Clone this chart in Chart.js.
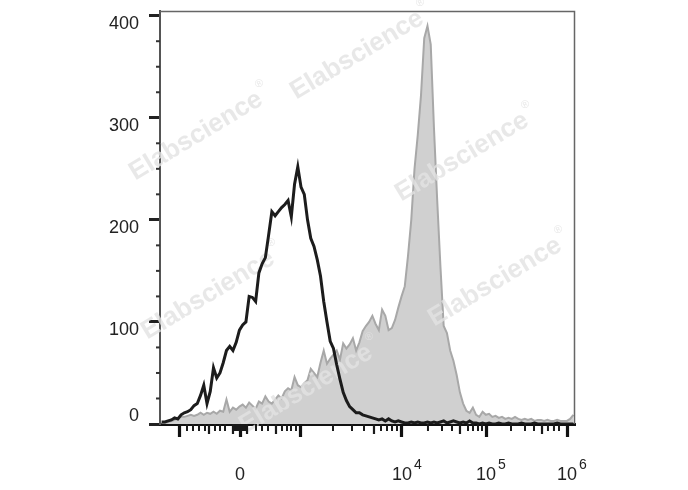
<!DOCTYPE html>
<html><head><meta charset="utf-8">
<script src="https://cdn.jsdelivr.net/npm/chart.js@4"></script>
<style>html,body{margin:0;padding:0;background:#fff;} canvas{display:block;}</style>
</head><body>
<canvas id="c" width="688" height="490"></canvas>
<script>
// ---- data (histogram channels, 128 bins of 8 channels over 0..1024) ----
const BIN_WIDTH = 8;
const X_MIN = 0, X_MAX = 1024;
const Y_MIN = 0, Y_MAX = 404.6;

const isotypeCounts = [
  2,2,3,4,6,5,9,11,12,14,
  18,20,28,38,20,32,55,45,50,60,
  72,76,72,80,92,97,100,125,124,120,
  148,157,163,185,208,204,208,212,215,219,
  203,235,252,232,225,200,182,174,161,145,
  120,100,81,74,58,44,31,23,17,14,
  11,11,9,8,7,6,5,4,5,3,
  5,3,2,3,2,1,1,2,1,2,
  1,1,2,1,2,1,2,3,1,2,
  3,2,1,2,1,3,1,1,0,1,
  0,1,0,0,1,0,0,1,0,0,
  0,1,0,0,0,1,0,0,0,0,
  0,0,1,0,0,0,0,0
];
const stainedCounts = [
  1,1,2,3,4,6,7,7,8,9,
  8,9,11,9,11,10,12,10,13,12,
  24,12,16,14,17,19,16,21,18,15,
  22,20,27,22,20,24,28,25,32,35,
  33,46,38,36,40,43,54,50,46,60,
  72,59,64,68,72,63,79,74,78,84,
  72,80,91,96,100,106,98,92,112,106,
  92,94,102,114,125,135,165,200,250,283,
  322,378,390,372,290,219,154,96,89,72,
  62,48,31,20,13,11,16,9,7,12,
  9,10,7,8,6,7,5,6,5,7,
  5,4,5,4,5,3,4,4,3,4,
  3,3,4,3,3,3,5,9
];

// ---- axis ticks (channel units) ----
const xMajorTicks     = [49.3, 197.4, 347.9, 597.1, 804.4, 1004.3];
const xMajorLabels    = ['', '0', '', '10', '10', '10'];
const xMajorExponents = ['', '', '', '4', '5', '6'];
const xMediumTicks = [120.9, 180.1, 214.7, 286.2, 528.0, 740.2, 942.6];
const xMinorTicks = [66.6, 81.4, 96.2, 111.0, 135.7, 148.0, 160.4,
  185.1, 187.6, 190.0, 192.5, 194.9, 199.9, 202.3, 204.8, 207.3, 209.8,
  236.9, 251.7, 266.5, 301.0, 313.4, 323.2, 335.6,
  426.9, 473.7, 503.3, 545.3, 560.1, 572.4, 584.8,
  661.2, 695.8, 720.5, 760.0, 772.3, 784.6, 794.5,
  866.1, 900.6, 922.8, 957.3, 972.1, 984.5];
const yMajorTicks = [0, 100, 200, 300, 400];
const yMajorLabels = ['0', '100', '200', '300', '400'];
const yMinorTicks = [25, 50, 75, 125, 150, 175, 225, 250, 275, 325, 350, 375];

const watermarkText = 'Elabscience';
const watermarkSpots = [[357,55],[196,136],[462,157],[208,295],[495,282],[306,389]];

const FONT = '"Liberation Sans", Arial, sans-serif';

function toPoints(arr){ return arr.map((v,i)=>({x: X_MIN + BIN_WIDTH*(i+0.5), y: v})); }

const extras = {
  id: 'extras',
  afterDatasetDraw(chart, args){
    if (args.index !== 1) return;
    const ctx = chart.ctx;
    ctx.save();
    ctx.fillStyle = 'rgba(226,226,226,0.8)';
    ctx.textAlign = 'center';
    ctx.textBaseline = 'middle';
    for (const [cx, cy] of watermarkSpots){
      ctx.save();
      ctx.translate(cx, cy);
      ctx.rotate(-31*Math.PI/180);
      ctx.font = 'bold 26px ' + FONT;
      ctx.fillText(watermarkText, 0, 0);
      const w = ctx.measureText(watermarkText).width;
      ctx.font = '11px ' + FONT;
      ctx.textAlign = 'left';
      ctx.fillText('®', w/2 + 2, -12);
      ctx.textAlign = 'center';
      ctx.restore();
    }
    ctx.restore();
  },
  afterDraw(chart){
    const ctx = chart.ctx, ca = chart.chartArea;
    const xs = chart.scales.x, ys = chart.scales.y;
    ctx.save();
    // top and right frame
    ctx.strokeStyle = '#666'; ctx.lineWidth = 1.5;
    ctx.beginPath();
    ctx.moveTo(ca.left, ca.top + 0.5); ctx.lineTo(ca.right - 0.5, ca.top + 0.5);
    ctx.lineTo(ca.right - 0.5, ca.bottom);
    ctx.stroke();
    // x minor / medium ticks
    ctx.strokeStyle = '#1a1a1a';
    ctx.lineWidth = 2;
    for (const v of xMinorTicks){
      const p = xs.getPixelForValue(v);
      ctx.beginPath(); ctx.moveTo(p, ca.bottom); ctx.lineTo(p, ca.bottom + 7); ctx.stroke();
    }
    ctx.lineWidth = 2.2;
    for (const v of xMediumTicks){
      const p = xs.getPixelForValue(v);
      ctx.beginPath(); ctx.moveTo(p, ca.bottom); ctx.lineTo(p, ca.bottom + 10); ctx.stroke();
    }
    // y minor ticks
    ctx.strokeStyle = '#333'; ctx.lineWidth = 2;
    for (const v of yMinorTicks){
      const p = ys.getPixelForValue(v);
      ctx.beginPath(); ctx.moveTo(ca.left - 4, p); ctx.lineTo(ca.left, p); ctx.stroke();
    }
    // superscript exponents on x labels
    ctx.fillStyle = '#222';
    ctx.textBaseline = 'alphabetic';
    ctx.textAlign = 'left';
    const base = ca.bottom + 57;
    xMajorTicks.forEach((v, i) => {
      if (!xMajorExponents[i]) return;
      const p = xs.getPixelForValue(v);
      ctx.font = '18px ' + FONT;
      const w = ctx.measureText(xMajorLabels[i]).width;
      ctx.font = '14px ' + FONT;
      ctx.fillText(xMajorExponents[i], p + w/2 + 2, base - 12);
    });
    ctx.restore();
  }
};

new Chart(document.getElementById('c'), {
  type: 'line',
  data: {
    datasets: [
      { label: 'Isotype', data: toPoints(isotypeCounts), borderColor: '#1c1c1c', borderWidth: 3,
        fill: false, pointRadius: 0, tension: 0 },
      { label: 'Stained', data: toPoints(stainedCounts), borderColor: '#a8a8a8', borderWidth: 2,
        backgroundColor: '#d0d0d0', fill: 'origin', pointRadius: 0, tension: 0 }
    ]
  },
  options: {
    responsive: false,
    animation: false,
    layout: { padding: { left: 0, top: 11, right: 113, bottom: 0 } },
    plugins: { legend: { display: false }, tooltip: { enabled: false } },
    scales: {
      x: {
        type: 'linear', min: X_MIN, max: X_MAX,
        afterBuildTicks(scale){ scale.ticks = xMajorTicks.map(v => ({value: v})); },
        afterFit(scale){ scale.height = 66; scale.paddingLeft = 0; scale.paddingRight = 0; },
        ticks: {
          autoSkip: false, maxRotation: 0, padding: 27, color: '#222',
          font: { family: FONT, size: 18 },
          callback(value, index){ return xMajorLabels[index]; }
        },
        grid: { display: true, drawOnChartArea: false, drawTicks: true, tickLength: 13, tickWidth: 3.2, tickColor: '#111' },
        border: { display: true, color: '#111', width: 3 }
      },
      y: {
        type: 'linear', min: Y_MIN, max: Y_MAX,
        afterBuildTicks(scale){ scale.ticks = yMajorTicks.map(v => ({value: v})); },
        afterFit(scale){ scale.width = 160; scale.paddingTop = 0; scale.paddingBottom = 0; },
        ticks: {
          autoSkip: false, padding: 10, color: '#222',
          font: { family: FONT, size: 18, lineHeight: '16px' },
          callback(value, index){
            const t = yMajorLabels[index];
            return index === 0 ? [t, ''] : ['', t];
          }
        },
        grid: { display: true, drawOnChartArea: false, drawTicks: true, tickLength: 11, tickWidth: 3, tickColor: '#222' },
        border: { display: true, color: '#555', width: 2 }
      }
    }
  },
  plugins: [extras]
});
</script>
</body></html>
